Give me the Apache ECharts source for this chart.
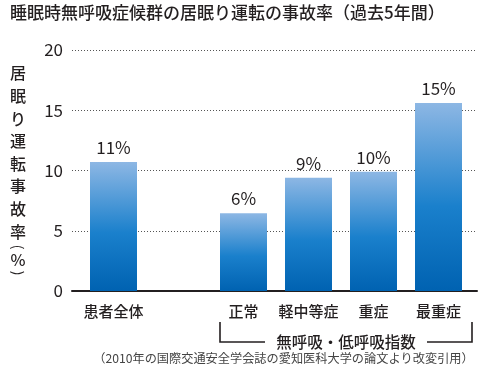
<!DOCTYPE html>
<html><head><meta charset="utf-8">
<script src="https://cdn.jsdelivr.net/npm/echarts@6/dist/echarts.min.js"></script>
<style>html,body{margin:0;padding:0;background:#fff}#c{width:500px;height:382px}</style>
</head><body><div id="c"></div>
<script>
const titleText = '睡眠時無呼吸症候群の居眠り運転の事故率（過去5年間）';
const categories = ['患者全体', '', '正常', '軽中等症', '重症', '最重症'];
const values = [10.7, null, 6.45, 9.4, 9.9, 15.6];
const valueLabels = ['11%', '', '6%', '9%', '10%', '15%'];
const yMin = 0, yMax = 20, yStep = 5;
const yAxisNameChars = ['居', '眠', 'り', '運', '転', '事', '故', '率'];
const yAxisUnitOpen = '(', yAxisUnit = '%', yAxisUnitClose = ')';
const bracketText = '無呼吸・低呼吸指数';
const bracketFrom = '正常', bracketTo = '最重症';
const footnote = '（2010年の国際交通安全学会誌の愛知医科大学の論文より改変引用）';

const FONT = '"Noto Sans CJK JP", "Noto Sans", sans-serif';
const INK = '#231f20';
const BAR_W = 47;

const chart = echarts.init(document.getElementById('c'), null, {renderer: 'canvas'});
const option = {
  animation: false,
  textStyle: {fontFamily: FONT},
  grid: [
    {left: 72, right: 23, top: 50, bottom: 91},
    {left: 81, right: 29, top: 50, bottom: 91}
  ],
  xAxis: [
    {gridIndex: 0, type: 'category', data: categories,
     axisLine: {show: true, lineStyle: {color: INK, width: 2}},
     axisTick: {show: false}, axisLabel: {show: false}, splitLine: {show: false}},
    {gridIndex: 1, type: 'category', data: categories,
     axisLine: {show: false}, axisTick: {show: false},
     axisLabel: {interval: 0, fontSize: 15, fontWeight: 500, color: INK, margin: 13, fontFamily: FONT}}
  ],
  yAxis: [
    {gridIndex: 0, type: 'value', min: yMin, max: yMax, interval: yStep,
     axisLine: {show: false}, axisTick: {show: false},
     axisLabel: {fontSize: 17, color: INK, margin: 9, fontFamily: FONT},
     splitLine: {show: true, lineStyle: {color: '#555', width: 1, type: [1, 2]}}},
    {gridIndex: 1, type: 'value', min: yMin, max: yMax, interval: yStep,
     axisLine: {show: false}, axisTick: {show: false},
     axisLabel: {show: false}, splitLine: {show: false}}
  ],
  series: [{
    type: 'bar', xAxisIndex: 1, yAxisIndex: 1, data: values, barWidth: BAR_W,
    itemStyle: {
      color: new echarts.graphic.LinearGradient(0, 0, 0, 1, [
        {offset: 0, color: '#8db7e4'},
        {offset: 0.55, color: '#1a80cc'},
        {offset: 1, color: '#0062b1'}
      ])
    },
    label: {show: true, position: 'top', distance: 6, fontSize: 17, color: INK,
      fontFamily: FONT, formatter: p => valueLabels[p.dataIndex]}
  }]
};
chart.setOption(option);

const cL = chart.convertToPixel({xAxisIndex: 1}, bracketFrom);
const cR = chart.convertToPixel({xAxisIndex: 1}, bracketTo);
const xL = cL - BAR_W / 2, xR = cR + BAR_W / 2 + 10;
const xm = (xL + xR) / 2;
const yTop = 322, yBot = 342;
const lineStyle = {stroke: INK, lineWidth: 1.6, fill: null};

function unitGroup(x, y) {
  return {type: 'group', x: x, y: y, children: [
    {type: 'text', x: 0, y: -13, rotation: -Math.PI / 2, style: {text: yAxisUnitOpen, font: '14px ' + FONT, fill: INK,
      align: 'center', verticalAlign: 'middle'}},
    {type: 'text', x: 0, y: 0, style: {text: yAxisUnit, font: '500 16px ' + FONT, fill: INK,
      align: 'center', verticalAlign: 'middle'}},
    {type: 'text', x: 0, y: 13, rotation: -Math.PI / 2, style: {text: yAxisUnitClose, font: '14px ' + FONT, fill: INK,
      align: 'center', verticalAlign: 'middle'}}
  ]};
}

const graphics = [
  {type: 'text', left: 10, top: 4, style: {text: titleText, font: '500 17px ' + FONT, fill: INK}},
  {type: 'text', x: 18, y: 62, style: {text: yAxisNameChars.join('\n'), font: '500 16px ' + FONT, fill: INK,
    lineHeight: 22.6, align: 'center', verticalAlign: 'top'}},
  unitGroup(18, 260),
  {type: 'polyline', shape: {points: [[xL, yTop], [xL, yBot], [xm - 81, yBot]]}, style: lineStyle},
  {type: 'polyline', shape: {points: [[xm + 81, yBot], [xR, yBot], [xR, yTop]]}, style: lineStyle},
  {type: 'text', x: xm, y: yBot, style: {text: bracketText, font: '500 15.5px ' + FONT, fill: INK,
    align: 'center', verticalAlign: 'middle'}},
  {type: 'text', x: 283.5, y: 358, style: {text: footnote, font: '12.2px ' + FONT, fill: '#444',
    align: 'center', verticalAlign: 'middle'}}
];
chart.setOption({graphic: graphics});
</script></body></html>
